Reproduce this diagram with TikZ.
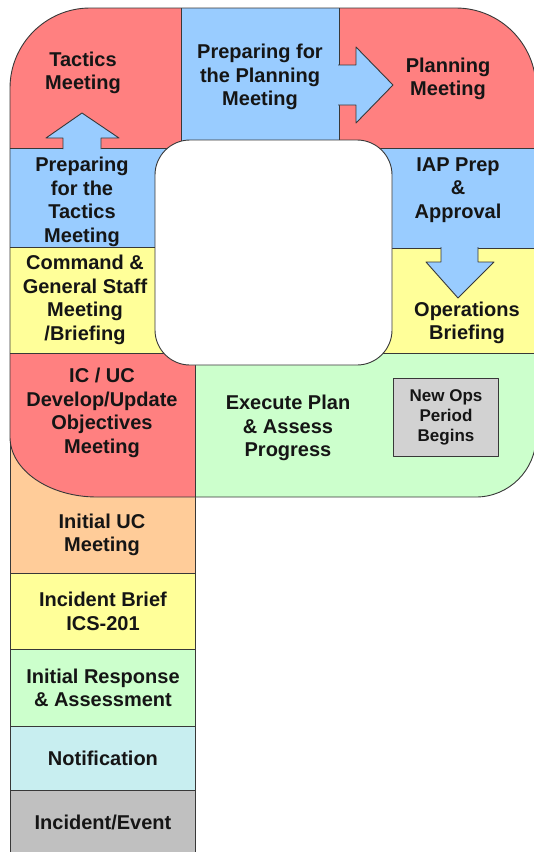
\documentclass[tikz,border=0pt]{standalone}
\usepackage{fontspec}
\setmainfont{Liberation Sans}
\definecolor{tacred}{HTML}{FF8080}
\definecolor{prepblue}{HTML}{99CCFF}
\definecolor{briefyel}{HTML}{FFFF99}
\definecolor{execgreen}{HTML}{CCFFCC}
\definecolor{ucorange}{HTML}{FFCC99}
\definecolor{notecyan}{HTML}{C8EEF0}
\definecolor{eventgray}{HTML}{C0C0C0}
\definecolor{opsgray}{HTML}{D2D2D2}
\definecolor{edgegray}{HTML}{383838}
\definecolor{inkblack}{HTML}{151515}
% outline of the planning loop (y runs downwards)
\newcommand{\loopshape}{(10,88) .. controls (10,44) and (46,8) .. (90,8)
  -- (456,8) .. controls (500,8) and (536,44) .. (536,88)
  -- (536,437) .. controls (536,470) and (509,497) .. (476,497)
  -- (97,497) .. controls (49,497) and (10,470) .. (10,437) -- cycle}
\begin{document}
\begin{tikzpicture}[x=1pt, y=-1pt, line join=round,
  font=\bfseries\fontsize{20}{23.5}\selectfont,
  edge/.style={draw=edgegray, line width=0.9pt},
  lbl/.style={align=center, inner sep=0pt, text=inkblack},
  colbox/.style={edge, lbl, minimum width=185pt, anchor=north west}]
	\useasboundingbox (0,0) rectangle (534,852);
	% stem of the P
	\draw[edge, fill=ucorange] (10,430) rectangle (195,573);
	\node[colbox, fill=briefyel, minimum height=76pt] (brief) at (10,573) {Incident Brief\\ICS-201};
	\node[colbox, fill=execgreen, minimum height=77pt] (response) at (10,649) {Initial Response\\\& Assessment};
	\node[colbox, fill=notecyan, minimum height=64pt] (notify) at (10,726) {Notification};
	\node[colbox, fill=eventgray, minimum height=64pt] (event) at (10,790) {Incident/Event};
	% loop
	\begin{scope}
		\clip \loopshape;
		\foreach \col/\xa/\ya/\xb/\yb in {tacred/0/0/181/148, prepblue/181/0/339/148,
			tacred/339/0/540/148, prepblue/0/148/200/247, briefyel/0/247/200/353,
			prepblue/350/148/540/248, briefyel/350/248/540/353,
			tacred/0/353/195/500, execgreen/195/353/540/500} {
			\fill[\col] (\xa,\ya) rectangle (\xb,\yb);
		}
		\draw[edge] (181,0)--(181,148) (339,0)--(339,148) (0,148)--(540,148)
		(0,247)--(200,247) (350,248)--(540,248) (0,353)--(540,353) (195,353)--(195,500);
	\end{scope}
	\draw[edge] \loopshape;
	\draw[edge, fill=white, rounded corners=35pt] (155,140) rectangle (392,365);
	% block arrows
	\draw[edge, fill=prepblue] (63,149) -- (63,138) -- (46,138) -- (82,113)
		-- (119,138) -- (101,138) -- (101,149);
	\draw[edge, fill=prepblue] (338,65) -- (356,65) -- (356,47) -- (393,85)
		-- (356,123) -- (356,105) -- (338,105);
	\draw[edge, fill=prepblue] (441,247) -- (441,262) -- (426,262) -- (458,298)
		-- (494,262) -- (478,262) -- (478,247);
	% labels
	\node[lbl] (tactics) at (83,73) {Tactics\\Meeting};
	\node[lbl] (prepplan) at (260,77) {Preparing for\\the Planning\\Meeting};
	\node[lbl] (planning) at (448,79) {Planning\\Meeting};
	\node[lbl] (preptac) at (82,202) {Preparing\\for the\\Tactics\\Meeting};
	\node[lbl] (iapprep) at (458,190) {IAP Prep\\\&\\Approval};
	\node[lbl] (cgsmeet) at (85,300) {Command \&\\General Staff\\Meeting\\/Briefing};
	\node[lbl] (opsbrief) at (467,323) {Operations\\Briefing};
	\node[lbl] (icuc) at (102,413) {IC / UC\\Develop/Update\\Objectives\\Meeting};
	\node[lbl] (execute) at (288,428) {Execute Plan\\\& Assess\\Progress};
	\node[edge, lbl, fill=opsgray, minimum width=105pt, minimum height=78pt,
		font=\bfseries\fontsize{17}{20}\selectfont] (newops) at (446,417) {New Ops\\Period\\Begins};
	\node[lbl] (ucmeet) at (102,535) {Initial UC\\Meeting};
\end{tikzpicture}
\end{document}
